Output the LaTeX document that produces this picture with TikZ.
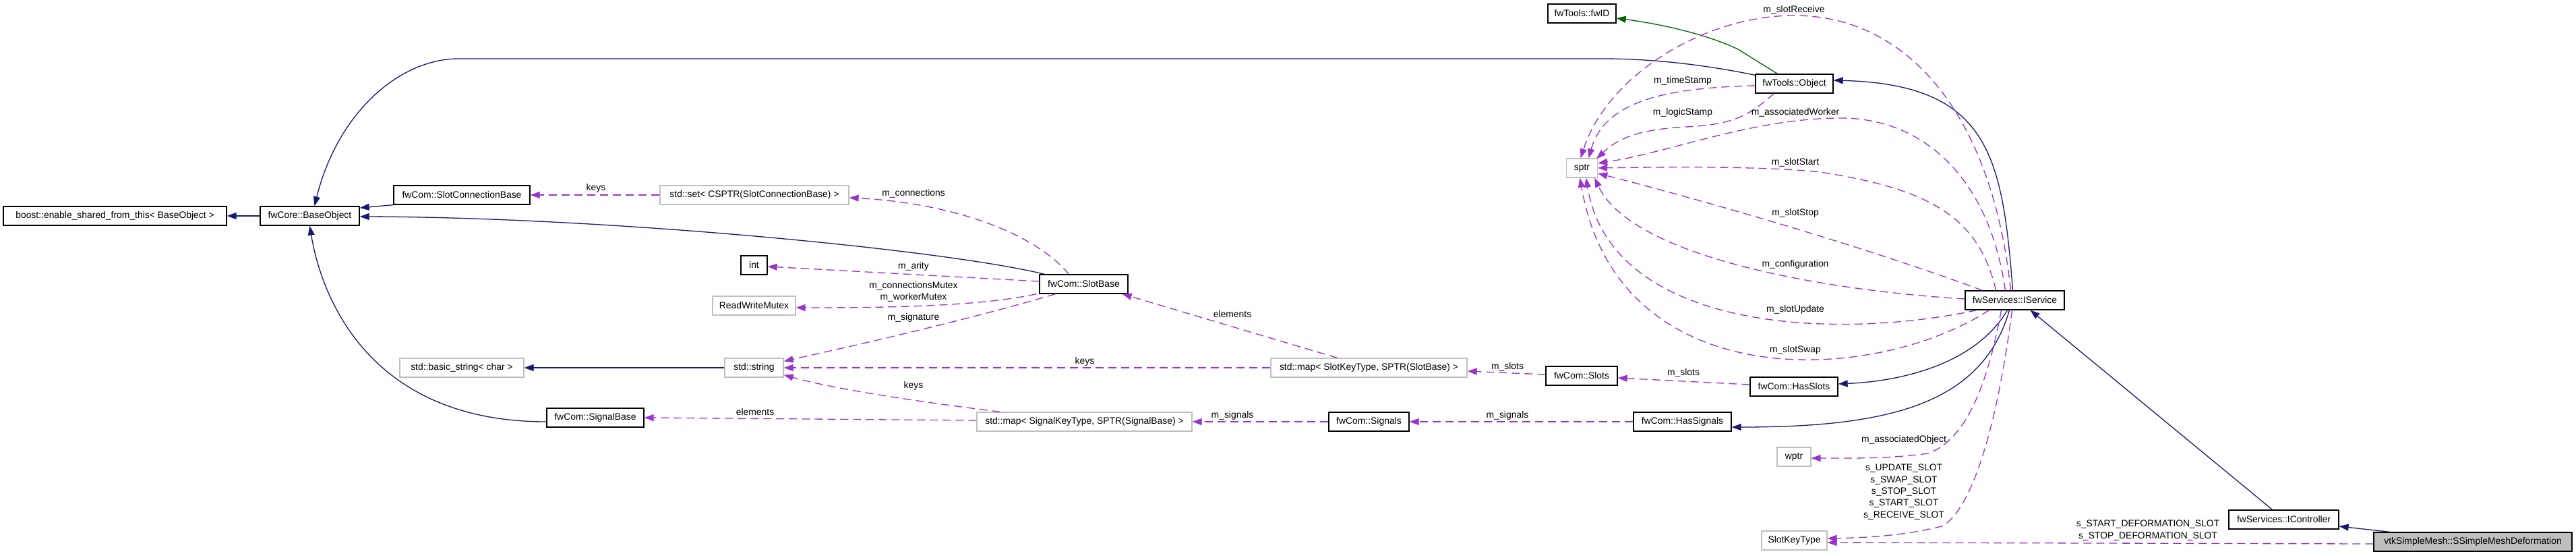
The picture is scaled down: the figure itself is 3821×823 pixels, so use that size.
\documentclass[tikz,border=0pt]{standalone}
\usepackage{fontspec}
\setmainfont{Liberation Sans}
\usetikzlibrary{arrows.meta,calc}
\definecolor{dblue}{HTML}{191970}
\definecolor{dpurple}{HTML}{9A32CD}
\definecolor{dgreen}{HTML}{006400}
\definecolor{gborder}{HTML}{BFBFBF}
\begin{document}
\begin{tikzpicture}[x=1pt,y=-1pt,
  every node/.style={font=\fontsize{13.9}{17.3}\selectfont, inner sep=0pt},
  cls/.style={draw=black, line width=1.3pt, fill=white, minimum height=28pt, anchor=center},
  ext/.style={cls, draw=gborder},
  mainc/.style={cls, fill=gborder},
  tipstyle/.style={-{Triangle[length=14pt,width=10pt]}},
  inh/.style={draw=dblue, line width=1.3pt, tipstyle},
  tmpl/.style={draw=dgreen, line width=1.3pt, tipstyle},
  use/.style={draw=dpurple, line width=1.3pt, dash pattern=on 12pt off 7pt, tipstyle},
  lbl/.style={align=center}
]
\useasboundingbox (0,0) rectangle (3821,823);
\fill[white] (0,0) rectangle (3821,823);

% nodes
\node[cls, minimum width=331pt] (boost) at (170.5,320) {boost::enable\_shared\_from\_this< BaseObject >};
\node[cls, minimum width=147pt] (baseobj) at (459.5,320) {fwCore::BaseObject};
\node[cls, minimum width=202pt] (scb) at (685,289) {fwCom::SlotConnectionBase};
\node[ext, minimum width=280pt] (strset) at (1119,289) {std::set< CSPTR(SlotConnectionBase) >};
\node[cls, minimum width=39pt] (int) at (1118.5,393) {int};
\node[ext, minimum width=123pt] (rwm) at (1118.5,453) {ReadWriteMutex};
\node[cls, minimum width=131pt] (slotbase) at (1607.5,421) {fwCom::SlotBase};
\node[ext, minimum width=184pt] (basicstr) at (685,545) {std::basic\_string< char >};
\node[ext, minimum width=87pt] (string) at (1118.5,545) {std::string};
\node[ext, minimum width=291pt] (slotmap) at (2030.5,545) {std::map< SlotKeyType, SPTR(SlotBase) >};
\node[cls, minimum width=144pt] (signalbase) at (883,619) {fwCom::SignalBase};
\node[ext, minimum width=319pt] (signalmap) at (1608.5,625) {std::map< SignalKeyType, SPTR(SignalBase) >};
\node[cls, minimum width=119pt] (signals) at (2030.5,625) {fwCom::Signals};
\node[cls, minimum width=106pt] (slots) at (2346,557) {fwCom::Slots};
\node[cls, minimum width=130pt] (hasslots) at (2661,573) {fwCom::HasSlots};
\node[cls, minimum width=145pt] (hassignals) at (2495.5,625) {fwCom::HasSignals};
\node[ext, minimum width=50pt] (wptr) at (2661,677) {wptr};
\node[ext, minimum width=97pt] (slotkey) at (2661.5,801) {SlotKeyType};
\node[cls, minimum width=101pt] (fwid) at (2346.5,20) {fwTools::fwID};
\node[cls, minimum width=115pt] (object) at (2661.5,124) {fwTools::Object};
\node[ext, minimum width=46pt] (sptr) at (2346.5,249) {sptr};
\node[cls, minimum width=147pt] (iservice) at (2988.5,445) {fwServices::IService};
\node[cls, minimum width=163pt] (icontroller) at (3387.5,770) {fwServices::IController};
\node[mainc, minimum width=294pt] (mesh) at (3668,803) {vtkSimpleMesh::SSimpleMeshDeformation};

% inheritance (blue)
\draw[inh] (baseobj.west) -- (boost.east);
\draw[inh] (scb.south west) -- ($(baseobj.east)+(0,-12)$);
\draw[inh] ($(slotbase.north west)+(8,0)$) .. controls (1400,370) and (900,322) .. ($(baseobj.east)+(0,1)$);
\draw[inh] ($(signalbase.west)+(0,6)$) .. controls (520,625) and (470,400) .. (baseobj.south);
\draw[inh] ($(object.north west)+(0,2)$) .. controls (2500,90) and (2420,87) .. (2376,87) -- (681,87) .. controls (590,87) and (500,170) .. ($(baseobj.north)+(7,0)$);
\draw[inh] (string.west) -- (basicstr.east);
\draw[tmpl] ($(object.north)+(-25,0)$) -- (2578,73) .. controls (2530,50) and (2460,35) .. ($(fwid.east)+(0,7)$);
\draw[inh] ($(iservice.north)+(-3,0)$) .. controls (2970,230) and (2950,125) .. ($(object.east)+(0,-5)$);
\draw[inh] ($(iservice.south)+(-11,0)$) .. controls (2930,540) and (2820,565) .. ($(hasslots.east)+(0,-4)$);
\draw[inh] ($(iservice.south)+(-8,0)$) .. controls (2940,600) and (2800,633) .. ($(hassignals.east)+(0,8)$);
\draw[inh] ($(icontroller.north)+(-17,0)$) -- ($(iservice.south)+(23,0)$);
\draw[inh] ($(mesh.north west)+(24,0)$) -- ($(icontroller.east)+(0,10)$);

% usage (purple dashed)
\draw[use] (strset.west) -- (scb.east);
\draw[use] ($(slotbase.north)+(-22,0)$) .. controls (1530,340) and (1400,300) .. ($(strset.east)+(0,4)$);
\draw[use] ($(slotbase.west)+(0,-4)$) -- ($(int.east)+(0,2)$);
\draw[use] ($(slotbase.south west)+(-4,0)$) .. controls (1450,455) and (1300,456) .. ($(rwm.east)+(0,3)$);
\draw[use] ($(slotbase.south)+(-42,0)$) .. controls (1450,470) and (1300,505) .. ($(string.north east)+(0,5)$);
\draw[use] ($(slotmap.north)+(-47,0)$) -- ($(slotbase.south east)+(-9,0)$);
\draw[use] (slotmap.west) -- (string.east);
\draw[use] ($(signalmap.north)+(-125,0)$) .. controls (1400,600) and (1250,580) .. ($(string.south east)+(0,-4)$);
\draw[use] ($(signalmap.west)+(0,-2)$) -- (signalbase.east);
\draw[use] (signals.west) -- (signalmap.east);
\draw[use] ($(slots.west)+(0,-2)$) -- ($(slotmap.east)+(0,5)$);
\draw[use] ($(hasslots.west)+(0,-3)$) -- ($(slots.east)+(0,3)$);
\draw[use] (hassignals.west) -- (signals.east);

\draw[use] ($(object.west)+(0,3)$) .. controls (2470,130) and (2380,150) .. ($(sptr.north)+(10,0)$);
\draw[use] ($(object.south)+(-30,0)$) .. controls (2600,165) and (2580,185) .. (2500,188) .. controls (2430,192) and (2400,205) .. ($(sptr.north east)+(-2,1)$);
\draw[use] ($(iservice.north)+(-6,0)$) .. controls (2955,170) and (2830,23) .. (2661,23) .. controls (2530,23) and (2385,110) .. ($(sptr.north)+(-2,0)$);
\draw[use] ($(iservice.north)+(-14,0)$) .. controls (2950,260) and (2850,175) .. (2731,175) .. controls (2600,175) and (2480,225) .. ($(sptr.east)+(0,-7)$);
\draw[use] ($(iservice.north)+(-28,0)$) .. controls (2935,320) and (2860,280) .. (2700,255) .. controls (2600,245) and (2450,248) .. (sptr.east);
\draw[use] ($(iservice.north)+(-48,0)$) .. controls (2750,360) and (2500,290) .. ($(sptr.east)+(0,8)$);
\draw[use] ($(iservice.west)+(0,-2)$) .. controls (2700,430) and (2420,380) .. ($(sptr.south east)+(-5,0)$);
\draw[use] ($(iservice.south west)+(18,0)$) .. controls (2720,505) and (2390,490) .. ($(sptr.south)+(6,0)$);
\draw[use] ($(iservice.south)+(-38,0)$) .. controls (2780,570) and (2400,590) .. ($(sptr.south)+(-3,0)$);
\draw[use] ($(iservice.south)+(-20,0)$) .. controls (2950,560) and (2920,650) .. (2860,672) .. controls (2800,680) and (2750,679) .. ($(wptr.east)+(0,2)$);
\draw[use] ($(iservice.south)+(-4,0)$) .. controls (2960,650) and (2920,760) .. (2880,780) .. controls (2820,795) and (2760,797) .. ($(slotkey.east)+(0,-3)$);
\draw[use] ($(mesh.west)+(0,3)$) -- ($(slotkey.east)+(0,3)$);

% labels
\node[lbl] (l1) at (884,279) {keys};
\node[lbl] (l2) at (1355,287) {m\_connections};
\node[lbl] (l3) at (1355,395) {m\_arity};
\node[lbl] (l4) at (1355,432) {m\_connectionsMutex\\m\_workerMutex};
\node[lbl] (l5) at (1355,471) {m\_signature};
\node[lbl] (l6) at (1828,466) {elements};
\node[lbl] (l7) at (1609,536) {keys};
\node[lbl] (l8) at (1355,572) {keys};
\node[lbl] (l9) at (1120,611) {elements};
\node[lbl] (l10) at (1828,616) {m\_signals};
\node[lbl] (l11) at (2236,544) {m\_slots};
\node[lbl] (l12) at (2236,616) {m\_signals};
\node[lbl] (l13) at (2497,553) {m\_slots};
\node[lbl] (l14) at (2661,15) {m\_slotReceive};
\node[lbl] (l15) at (2496,120) {m\_timeStamp};
\node[lbl] (l16) at (2496,167) {m\_logicStamp};
\node[lbl] (l17) at (2663,167) {m\_associatedWorker};
\node[lbl] (l18) at (2663,241) {m\_slotStart};
\node[lbl] (l19) at (2663,316) {m\_slotStop};
\node[lbl] (l20) at (2663,392) {m\_configuration};
\node[lbl] (l21) at (2663,459) {m\_slotUpdate};
\node[lbl] (l22) at (2663,519) {m\_slotSwap};
\node[lbl] (l23) at (2824,652) {m\_associatedObject};
\node[lbl] (l24) at (2824,729) {s\_UPDATE\_SLOT\\s\_SWAP\_SLOT\\s\_STOP\_SLOT\\s\_START\_SLOT\\s\_RECEIVE\_SLOT};
\node[lbl] (l25) at (3186,786) {s\_START\_DEFORMATION\_SLOT\\s\_STOP\_DEFORMATION\_SLOT};
\end{tikzpicture}
\end{document}
